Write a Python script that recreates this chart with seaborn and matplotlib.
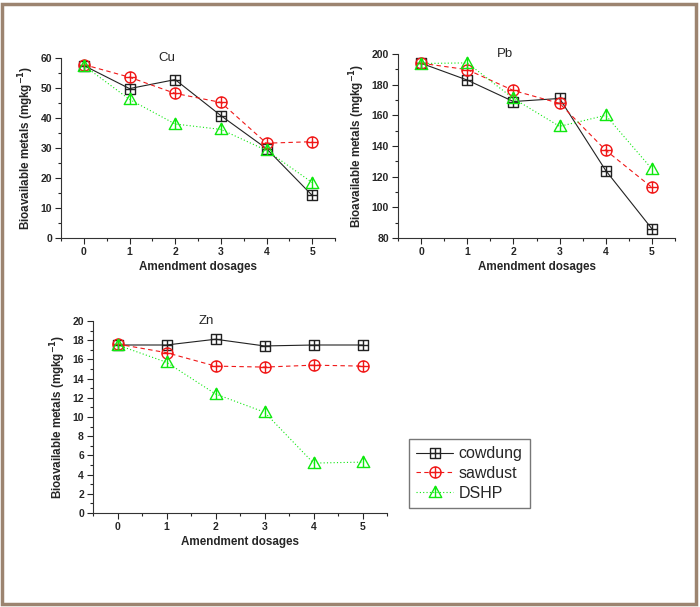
import numpy as np
import pandas as pd
import matplotlib
matplotlib.use("Agg")
import matplotlib.pyplot as plt
from matplotlib.path import Path
from matplotlib.ticker import MultipleLocator
import seaborn as sns

sns.set_style("ticks")
plt.rcParams["font.family"] = ["Liberation Sans", "DejaVu Sans"]

# ---- data ----
dosages = [0, 1, 2, 3, 4, 5]
series = ["cowdung", "sawdust", "DSHP"]

cu_cowdung = [57.5, 49.8, 52.8, 40.8, 29.8, 14.2]
cu_sawdust = [57.8, 53.6, 48.2, 45.2, 31.6, 32.1]
cu_dshp = [57.5, 46.2, 38.0, 36.2, 29.2, 18.5]

pb_cowdung = [194.0, 183.0, 169.0, 171.0, 124.0, 86.0]
pb_sawdust = [194.0, 189.8, 176.2, 167.8, 137.2, 113.0]
pb_dshp = [193.8, 194.2, 171.0, 152.8, 160.0, 125.0]

zn_cowdung = [17.5, 17.5, 18.1, 17.4, 17.5, 17.5]
zn_sawdust = [17.6, 16.7, 15.3, 15.2, 15.4, 15.3]
zn_dshp = [17.5, 15.7, 12.4, 10.5, 5.2, 5.3]

panels = {
    "Cu": [cu_cowdung, cu_sawdust, cu_dshp],
    "Pb": [pb_cowdung, pb_sawdust, pb_dshp],
    "Zn": [zn_cowdung, zn_sawdust, zn_dshp],
}

# ---- Origin-like markers: square+cross, circle+cross, triangle+bar ----
sq = Path([(-1, -1), (1, -1), (1, 1), (-1, 1), (-1, -1), (0, -1), (0, 1), (-1, 0), (1, 0)],
          [Path.MOVETO, Path.LINETO, Path.LINETO, Path.LINETO, Path.CLOSEPOLY,
           Path.MOVETO, Path.LINETO, Path.MOVETO, Path.LINETO])
cross = Path([(0, -1), (0, 1), (-1, 0), (1, 0)],
             [Path.MOVETO, Path.LINETO, Path.MOVETO, Path.LINETO])
circ = Path.make_compound_path(Path.unit_circle(), cross)
tri = Path([(-1, -0.8), (1, -0.8), (0, 1), (-1, -0.8), (0, -0.8), (0, 1)],
           [Path.MOVETO, Path.LINETO, Path.LINETO, Path.CLOSEPOLY, Path.MOVETO, Path.LINETO])

styles = {
    "cowdung": dict(color="#222222", linestyle="-", marker=sq, markersize=7),
    "sawdust": dict(color="#f01818", linestyle=(0, (4, 3)), marker=circ, markersize=8),
    "DSHP": dict(color="#10e810", linestyle=(0, (1, 2)), marker=tri, markersize=9),
}

W, H = 700, 607
fig = plt.figure(figsize=(W / 100, H / 100), dpi=100)


def px_axes(left, right, top, bottom):
    return fig.add_axes([left / W, 1 - bottom / H, (right - left) / W, (bottom - top) / H])


boxes = {"Cu": (61, 335, 58, 238), "Pb": (398, 675, 54, 238), "Zn": (93, 387, 321, 513)}
ylims = {"Cu": (0, 60, 10), "Pb": (80, 200, 20), "Zn": (0, 20, 2)}

for metal, values in panels.items():
    ax = px_axes(*boxes[metal])
    for name, vals in zip(series, values):
        df = pd.DataFrame({"dose": dosages, "value": vals})
        st = styles[name]
        sns.lineplot(data=df, x="dose", y="value", ax=ax, label=name,
                     color=st["color"], linestyle=st["linestyle"], linewidth=0.8,
                     marker=st["marker"], markersize=st["markersize"],
                     markerfacecolor="none", markeredgecolor=st["color"],
                     markeredgewidth=1.0)
    lo, hi, step = ylims[metal]
    ax.set_ylim(lo, hi)
    ax.set_xlim(-0.5, 5.5)
    ax.xaxis.set_major_locator(MultipleLocator(1))
    ax.xaxis.set_minor_locator(MultipleLocator(0.5))
    ax.yaxis.set_major_locator(MultipleLocator(step))
    ax.yaxis.set_minor_locator(MultipleLocator(step / 2))
    ax.tick_params(which="major", direction="out", length=4, width=0.8, labelsize=7.5, pad=2.5)
    ax.tick_params(which="minor", direction="out", length=2, width=0.8)
    for lbl in ax.get_xticklabels() + ax.get_yticklabels():
        lbl.set_fontweight("bold")
    sns.despine(ax=ax)
    for sp in ["left", "bottom"]:
        ax.spines[sp].set_linewidth(0.8)
        ax.spines[sp].set_color("#333333")
    ax.set_xlabel("Amendment dosages", fontsize=8.4, fontweight="bold", labelpad=3)
    ax.set_ylabel("Bioavailable metals (mgkg$^{\\mathbf{-1}}$)", fontsize=8.4,
                  fontweight="bold", labelpad=3)
    ax.text(0.385, 1.0, metal, transform=ax.transAxes, ha="center", va="center", fontsize=9.5)
    handles, labels = ax.get_legend_handles_labels()
    ax.get_legend().remove()

fig.legend(handles, labels, loc="upper left", bbox_to_anchor=(409 / W, 1 - 439 / H),
           borderaxespad=0, frameon=True, fancybox=False, edgecolor="#555555",
           fontsize=11.5, handlelength=2.3, handletextpad=0.35, labelspacing=0.3,
           borderpad=0.45)

# brown frame around the figure
fig.patches.append(plt.Rectangle((2 / W, 3 / H), 694 / W, 600 / H, transform=fig.transFigure,
                                 fill=False, edgecolor="#9c8470", linewidth=2.5))

fig.savefig("out.png", dpi=100)
